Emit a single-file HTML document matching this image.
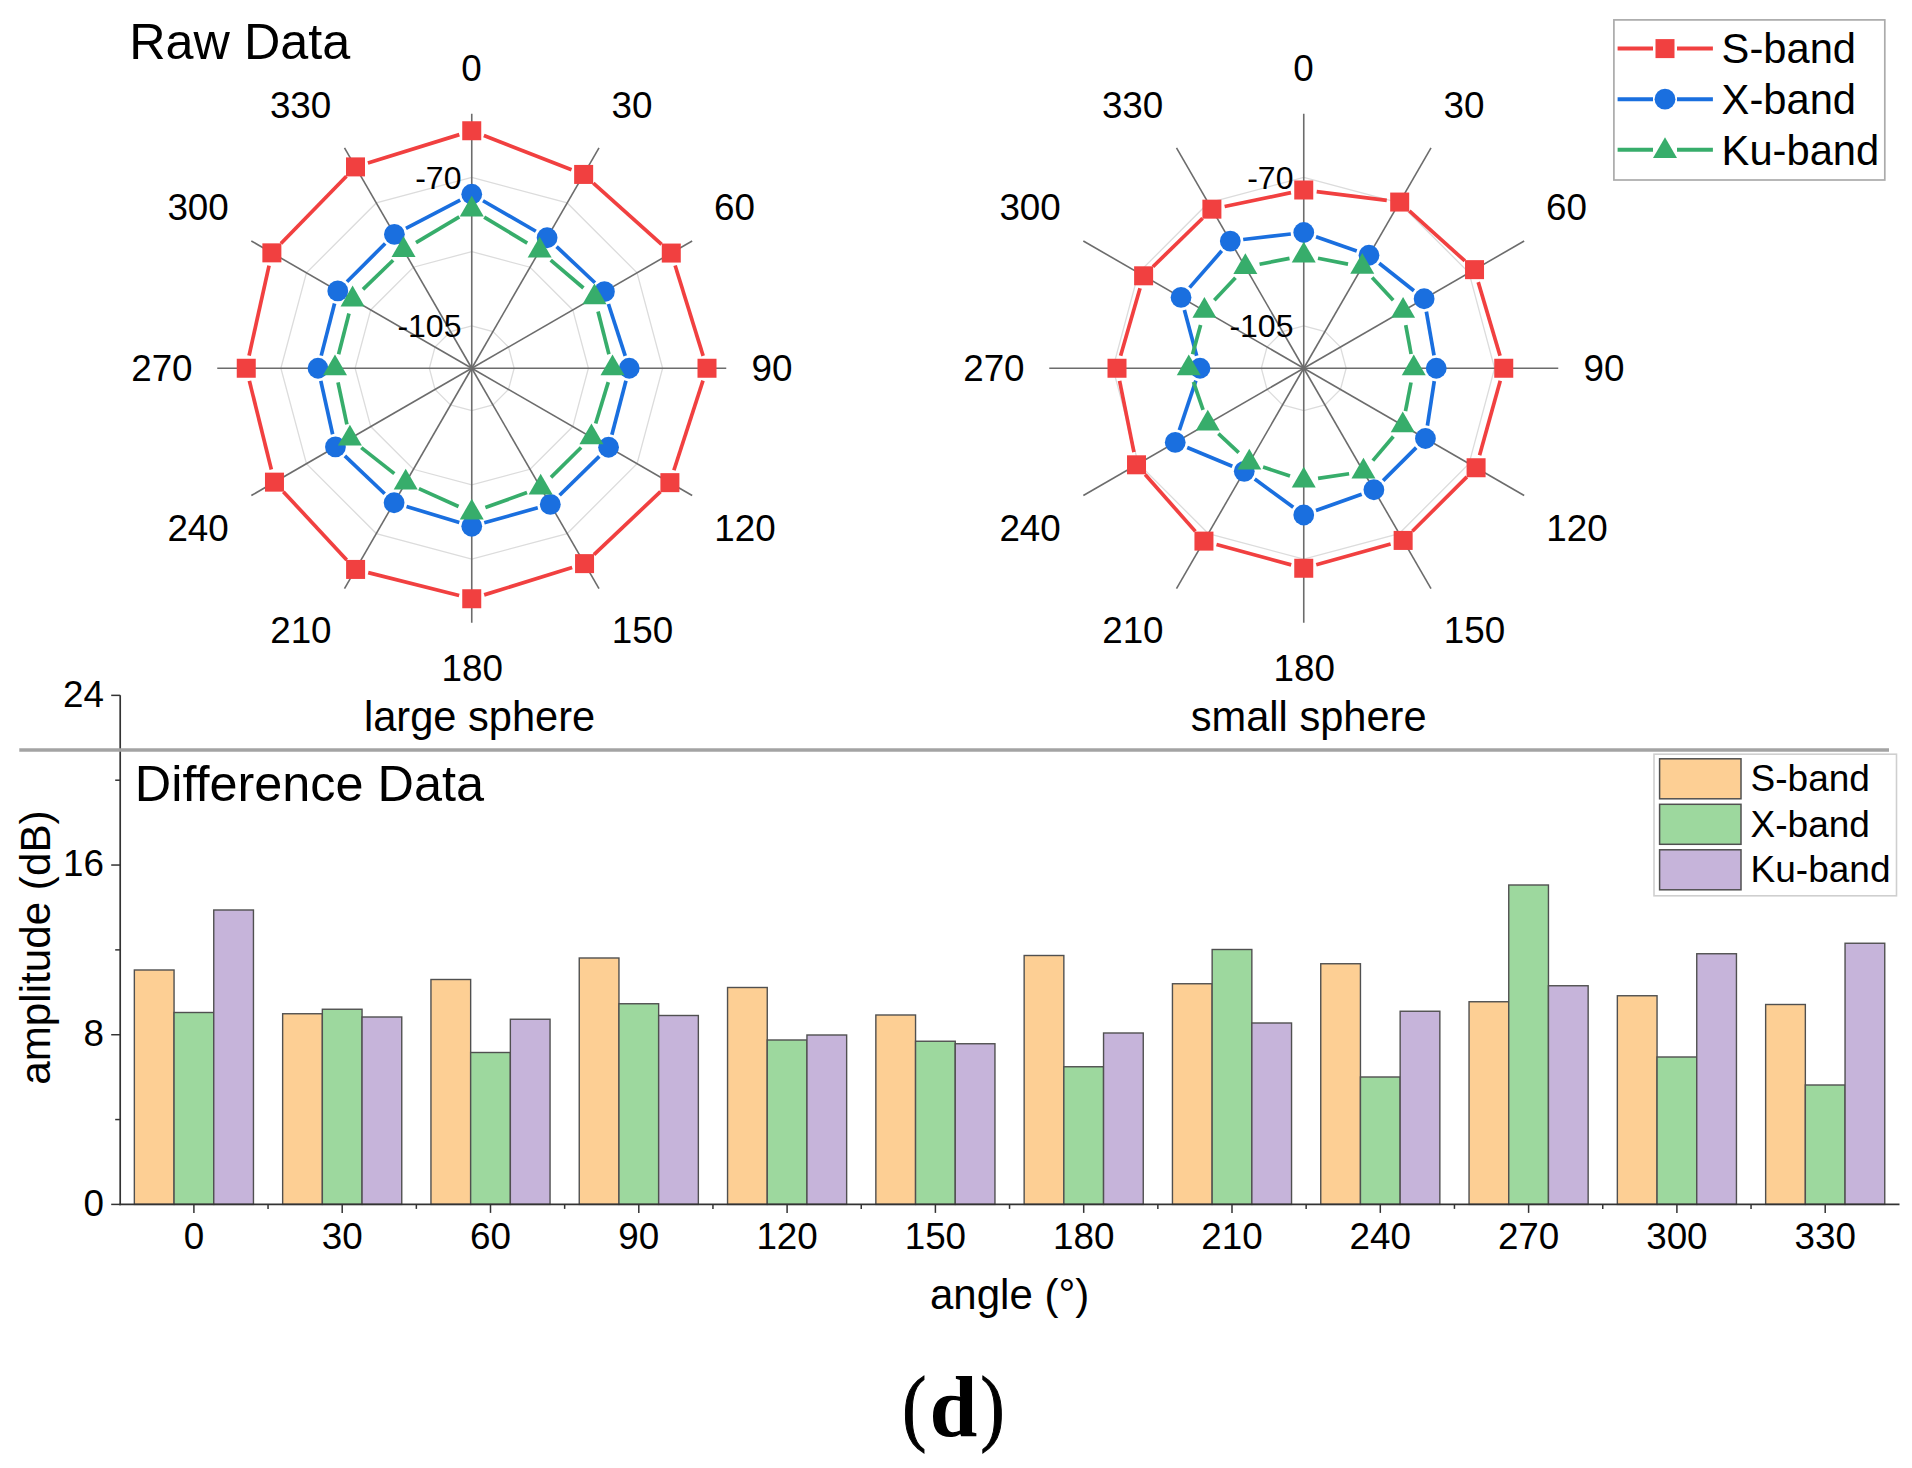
<!DOCTYPE html>
<html lang="en"><head><meta charset="utf-8"><title>Figure (d)</title>
<style>html,body{margin:0;padding:0;background:#fff}body{width:1912px;height:1468px;overflow:hidden}svg{display:block}</style>
</head><body>
<svg width="1912" height="1468" viewBox="0 0 1912 1468" font-family='"Liberation Sans", Arial, Helvetica, sans-serif' fill="#000">
<rect width="1912" height="1468" fill="#fff"/>
<rect x="134.35" y="970.00" width="39.7" height="234.40" fill="#FDCF94" stroke="#505050" stroke-width="1.4"/>
<rect x="174.05" y="1012.50" width="39.7" height="191.90" fill="#9DD89E" stroke="#505050" stroke-width="1.4"/>
<rect x="213.75" y="910.00" width="39.7" height="294.40" fill="#C6B4DA" stroke="#505050" stroke-width="1.4"/>
<rect x="282.65" y="1013.75" width="39.7" height="190.65" fill="#FDCF94" stroke="#505050" stroke-width="1.4"/>
<rect x="322.35" y="1009.25" width="39.7" height="195.15" fill="#9DD89E" stroke="#505050" stroke-width="1.4"/>
<rect x="362.05" y="1017.00" width="39.7" height="187.40" fill="#C6B4DA" stroke="#505050" stroke-width="1.4"/>
<rect x="430.95" y="979.50" width="39.7" height="224.90" fill="#FDCF94" stroke="#505050" stroke-width="1.4"/>
<rect x="470.65" y="1052.50" width="39.7" height="151.90" fill="#9DD89E" stroke="#505050" stroke-width="1.4"/>
<rect x="510.35" y="1019.25" width="39.7" height="185.15" fill="#C6B4DA" stroke="#505050" stroke-width="1.4"/>
<rect x="579.25" y="958.00" width="39.7" height="246.40" fill="#FDCF94" stroke="#505050" stroke-width="1.4"/>
<rect x="618.95" y="1003.75" width="39.7" height="200.65" fill="#9DD89E" stroke="#505050" stroke-width="1.4"/>
<rect x="658.65" y="1015.50" width="39.7" height="188.90" fill="#C6B4DA" stroke="#505050" stroke-width="1.4"/>
<rect x="727.55" y="987.50" width="39.7" height="216.90" fill="#FDCF94" stroke="#505050" stroke-width="1.4"/>
<rect x="767.25" y="1040.00" width="39.7" height="164.40" fill="#9DD89E" stroke="#505050" stroke-width="1.4"/>
<rect x="806.95" y="1035.00" width="39.7" height="169.40" fill="#C6B4DA" stroke="#505050" stroke-width="1.4"/>
<rect x="875.85" y="1015.00" width="39.7" height="189.40" fill="#FDCF94" stroke="#505050" stroke-width="1.4"/>
<rect x="915.55" y="1041.25" width="39.7" height="163.15" fill="#9DD89E" stroke="#505050" stroke-width="1.4"/>
<rect x="955.25" y="1043.75" width="39.7" height="160.65" fill="#C6B4DA" stroke="#505050" stroke-width="1.4"/>
<rect x="1024.15" y="955.50" width="39.7" height="248.90" fill="#FDCF94" stroke="#505050" stroke-width="1.4"/>
<rect x="1063.85" y="1066.75" width="39.7" height="137.65" fill="#9DD89E" stroke="#505050" stroke-width="1.4"/>
<rect x="1103.55" y="1033.00" width="39.7" height="171.40" fill="#C6B4DA" stroke="#505050" stroke-width="1.4"/>
<rect x="1172.45" y="983.75" width="39.7" height="220.65" fill="#FDCF94" stroke="#505050" stroke-width="1.4"/>
<rect x="1212.15" y="949.50" width="39.7" height="254.90" fill="#9DD89E" stroke="#505050" stroke-width="1.4"/>
<rect x="1251.85" y="1023.00" width="39.7" height="181.40" fill="#C6B4DA" stroke="#505050" stroke-width="1.4"/>
<rect x="1320.75" y="963.75" width="39.7" height="240.65" fill="#FDCF94" stroke="#505050" stroke-width="1.4"/>
<rect x="1360.45" y="1077.00" width="39.7" height="127.40" fill="#9DD89E" stroke="#505050" stroke-width="1.4"/>
<rect x="1400.15" y="1011.25" width="39.7" height="193.15" fill="#C6B4DA" stroke="#505050" stroke-width="1.4"/>
<rect x="1469.05" y="1001.75" width="39.7" height="202.65" fill="#FDCF94" stroke="#505050" stroke-width="1.4"/>
<rect x="1508.75" y="885.00" width="39.7" height="319.40" fill="#9DD89E" stroke="#505050" stroke-width="1.4"/>
<rect x="1548.45" y="985.75" width="39.7" height="218.65" fill="#C6B4DA" stroke="#505050" stroke-width="1.4"/>
<rect x="1617.35" y="995.75" width="39.7" height="208.65" fill="#FDCF94" stroke="#505050" stroke-width="1.4"/>
<rect x="1657.05" y="1057.00" width="39.7" height="147.40" fill="#9DD89E" stroke="#505050" stroke-width="1.4"/>
<rect x="1696.75" y="953.75" width="39.7" height="250.65" fill="#C6B4DA" stroke="#505050" stroke-width="1.4"/>
<rect x="1765.65" y="1004.50" width="39.7" height="199.90" fill="#FDCF94" stroke="#505050" stroke-width="1.4"/>
<rect x="1805.35" y="1085.00" width="39.7" height="119.40" fill="#9DD89E" stroke="#505050" stroke-width="1.4"/>
<rect x="1845.05" y="943.25" width="39.7" height="261.15" fill="#C6B4DA" stroke="#505050" stroke-width="1.4"/>
<line x1="120.2" y1="695.36" x2="120.2" y2="1205.20" stroke="#333" stroke-width="1.7"/>
<line x1="119.4" y1="1204.4" x2="1899.5" y2="1204.4" stroke="#333" stroke-width="1.7"/>
<line x1="111.2" y1="1204.40" x2="120.2" y2="1204.40" stroke="#333" stroke-width="1.5"/>
<text x="104" y="1215.80" font-size="36.8" text-anchor="end">0</text>
<line x1="115.2" y1="1119.56" x2="120.2" y2="1119.56" stroke="#333" stroke-width="1.5"/>
<line x1="111.2" y1="1034.72" x2="120.2" y2="1034.72" stroke="#333" stroke-width="1.5"/>
<text x="104" y="1046.12" font-size="36.8" text-anchor="end">8</text>
<line x1="115.2" y1="949.88" x2="120.2" y2="949.88" stroke="#333" stroke-width="1.5"/>
<line x1="111.2" y1="865.04" x2="120.2" y2="865.04" stroke="#333" stroke-width="1.5"/>
<text x="104" y="876.44" font-size="36.8" text-anchor="end">16</text>
<line x1="115.2" y1="780.20" x2="120.2" y2="780.20" stroke="#333" stroke-width="1.5"/>
<line x1="111.2" y1="695.36" x2="120.2" y2="695.36" stroke="#333" stroke-width="1.5"/>
<text x="104" y="706.76" font-size="36.8" text-anchor="end">24</text>
<line x1="193.90" y1="1204.4" x2="193.90" y2="1212.9" stroke="#333" stroke-width="1.5"/>
<text x="193.90" y="1248.5" font-size="36.8" text-anchor="middle">0</text>
<line x1="342.20" y1="1204.4" x2="342.20" y2="1212.9" stroke="#333" stroke-width="1.5"/>
<text x="342.20" y="1248.5" font-size="36.8" text-anchor="middle">30</text>
<line x1="268.05" y1="1204.4" x2="268.05" y2="1208.9" stroke="#333" stroke-width="1.5"/>
<line x1="490.50" y1="1204.4" x2="490.50" y2="1212.9" stroke="#333" stroke-width="1.5"/>
<text x="490.50" y="1248.5" font-size="36.8" text-anchor="middle">60</text>
<line x1="416.35" y1="1204.4" x2="416.35" y2="1208.9" stroke="#333" stroke-width="1.5"/>
<line x1="638.80" y1="1204.4" x2="638.80" y2="1212.9" stroke="#333" stroke-width="1.5"/>
<text x="638.80" y="1248.5" font-size="36.8" text-anchor="middle">90</text>
<line x1="564.65" y1="1204.4" x2="564.65" y2="1208.9" stroke="#333" stroke-width="1.5"/>
<line x1="787.10" y1="1204.4" x2="787.10" y2="1212.9" stroke="#333" stroke-width="1.5"/>
<text x="787.10" y="1248.5" font-size="36.8" text-anchor="middle">120</text>
<line x1="712.95" y1="1204.4" x2="712.95" y2="1208.9" stroke="#333" stroke-width="1.5"/>
<line x1="935.40" y1="1204.4" x2="935.40" y2="1212.9" stroke="#333" stroke-width="1.5"/>
<text x="935.40" y="1248.5" font-size="36.8" text-anchor="middle">150</text>
<line x1="861.25" y1="1204.4" x2="861.25" y2="1208.9" stroke="#333" stroke-width="1.5"/>
<line x1="1083.70" y1="1204.4" x2="1083.70" y2="1212.9" stroke="#333" stroke-width="1.5"/>
<text x="1083.70" y="1248.5" font-size="36.8" text-anchor="middle">180</text>
<line x1="1009.55" y1="1204.4" x2="1009.55" y2="1208.9" stroke="#333" stroke-width="1.5"/>
<line x1="1232.00" y1="1204.4" x2="1232.00" y2="1212.9" stroke="#333" stroke-width="1.5"/>
<text x="1232.00" y="1248.5" font-size="36.8" text-anchor="middle">210</text>
<line x1="1157.85" y1="1204.4" x2="1157.85" y2="1208.9" stroke="#333" stroke-width="1.5"/>
<line x1="1380.30" y1="1204.4" x2="1380.30" y2="1212.9" stroke="#333" stroke-width="1.5"/>
<text x="1380.30" y="1248.5" font-size="36.8" text-anchor="middle">240</text>
<line x1="1306.15" y1="1204.4" x2="1306.15" y2="1208.9" stroke="#333" stroke-width="1.5"/>
<line x1="1528.60" y1="1204.4" x2="1528.60" y2="1212.9" stroke="#333" stroke-width="1.5"/>
<text x="1528.60" y="1248.5" font-size="36.8" text-anchor="middle">270</text>
<line x1="1454.45" y1="1204.4" x2="1454.45" y2="1208.9" stroke="#333" stroke-width="1.5"/>
<line x1="1676.90" y1="1204.4" x2="1676.90" y2="1212.9" stroke="#333" stroke-width="1.5"/>
<text x="1676.90" y="1248.5" font-size="36.8" text-anchor="middle">300</text>
<line x1="1602.75" y1="1204.4" x2="1602.75" y2="1208.9" stroke="#333" stroke-width="1.5"/>
<line x1="1825.20" y1="1204.4" x2="1825.20" y2="1212.9" stroke="#333" stroke-width="1.5"/>
<text x="1825.20" y="1248.5" font-size="36.8" text-anchor="middle">330</text>
<line x1="1751.05" y1="1204.4" x2="1751.05" y2="1208.9" stroke="#333" stroke-width="1.5"/>
<text x="1009.6" y="1308.6" font-size="42" text-anchor="middle">angle (°)</text>
<text transform="translate(49.5,947.6) rotate(-90)" font-size="42.2" text-anchor="middle">amplitude (dB)</text>
<text x="134.8" y="800.5" font-size="50.4">Difference Data</text>
<rect x="1654" y="754.2" width="242.5" height="141.6" fill="#fff" stroke="#cfcfcf" stroke-width="1.6"/>
<rect x="1659.6" y="758.80" width="81.4" height="40" fill="#FDCF94" stroke="#505050" stroke-width="1.5"/>
<text x="1750.6" y="791.20" font-size="37">S-band</text>
<rect x="1659.6" y="804.30" width="81.4" height="40" fill="#9DD89E" stroke="#505050" stroke-width="1.5"/>
<text x="1750.6" y="836.70" font-size="37">X-band</text>
<rect x="1659.6" y="849.80" width="81.4" height="40" fill="#C6B4DA" stroke="#505050" stroke-width="1.5"/>
<text x="1750.6" y="882.20" font-size="37">Ku-band</text>
<line x1="19.3" y1="750" x2="1889" y2="750" stroke="#a3a3a3" stroke-width="3.5"/>
<polygon points="471.75,325.83 492.96,331.52 508.48,347.04 514.17,368.25 508.48,389.46 492.96,404.98 471.75,410.67 450.54,404.98 435.02,389.46 429.33,368.25 435.02,347.04 450.54,331.52" fill="none" stroke="#dcdcdc" stroke-width="1.3"/>
<polygon points="471.75,251.60 530.07,267.23 572.77,309.93 588.40,368.25 572.77,426.57 530.07,469.27 471.75,484.90 413.43,469.27 370.73,426.57 355.10,368.25 370.73,309.93 413.43,267.23" fill="none" stroke="#dcdcdc" stroke-width="1.3"/>
<polygon points="471.75,177.38 567.19,202.95 637.05,272.81 662.62,368.25 637.05,463.69 567.19,533.55 471.75,559.12 376.31,533.55 306.45,463.69 280.88,368.25 306.45,272.81 376.31,202.95" fill="none" stroke="#dcdcdc" stroke-width="1.3"/>
<line x1="471.75" y1="368.25" x2="471.75" y2="113.75" stroke="#6c6c6c" stroke-width="1.6"/>
<line x1="471.75" y1="368.25" x2="599.00" y2="147.85" stroke="#6c6c6c" stroke-width="1.6"/>
<line x1="471.75" y1="368.25" x2="692.15" y2="241.00" stroke="#6c6c6c" stroke-width="1.6"/>
<line x1="471.75" y1="368.25" x2="726.25" y2="368.25" stroke="#6c6c6c" stroke-width="1.6"/>
<line x1="471.75" y1="368.25" x2="692.15" y2="495.50" stroke="#6c6c6c" stroke-width="1.6"/>
<line x1="471.75" y1="368.25" x2="599.00" y2="588.65" stroke="#6c6c6c" stroke-width="1.6"/>
<line x1="471.75" y1="368.25" x2="471.75" y2="622.75" stroke="#6c6c6c" stroke-width="1.6"/>
<line x1="471.75" y1="368.25" x2="344.50" y2="588.65" stroke="#6c6c6c" stroke-width="1.6"/>
<line x1="471.75" y1="368.25" x2="251.35" y2="495.50" stroke="#6c6c6c" stroke-width="1.6"/>
<line x1="471.75" y1="368.25" x2="217.25" y2="368.25" stroke="#6c6c6c" stroke-width="1.6"/>
<line x1="471.75" y1="368.25" x2="251.35" y2="241.00" stroke="#6c6c6c" stroke-width="1.6"/>
<line x1="471.75" y1="368.25" x2="344.50" y2="147.85" stroke="#6c6c6c" stroke-width="1.6"/>
<text x="461.45" y="188.68" font-size="32" text-anchor="end">-70</text>
<text x="461.45" y="337.13" font-size="32" text-anchor="end">-105</text>
<line x1="483.86" y1="135.48" x2="571.54" y2="169.71" stroke="#F14040" stroke-width="3.7"/>
<line x1="593.33" y1="183.11" x2="661.61" y2="244.37" stroke="#F14040" stroke-width="3.7"/>
<line x1="675.13" y1="265.47" x2="703.15" y2="355.83" stroke="#F14040" stroke-width="3.7"/>
<line x1="702.99" y1="380.62" x2="673.91" y2="470.28" stroke="#F14040" stroke-width="3.7"/>
<line x1="660.47" y1="491.60" x2="593.98" y2="554.68" stroke="#F14040" stroke-width="3.7"/>
<line x1="572.14" y1="567.49" x2="484.16" y2="594.88" stroke="#F14040" stroke-width="3.7"/>
<line x1="459.15" y1="595.57" x2="368.20" y2="572.61" stroke="#F14040" stroke-width="3.7"/>
<line x1="346.75" y1="559.91" x2="283.32" y2="491.67" stroke="#F14040" stroke-width="3.7"/>
<line x1="271.34" y1="469.53" x2="249.38" y2="380.87" stroke="#F14040" stroke-width="3.7"/>
<line x1="249.07" y1="355.56" x2="269.05" y2="265.54" stroke="#F14040" stroke-width="3.7"/>
<line x1="280.94" y1="243.53" x2="346.43" y2="176.22" stroke="#F14040" stroke-width="3.7"/>
<line x1="367.91" y1="163.04" x2="459.34" y2="134.61" stroke="#F14040" stroke-width="3.7"/>
<rect x="462.25" y="121.25" width="19.0" height="19.0" fill="#F14040"/>
<rect x="574.15" y="164.93" width="19.0" height="19.0" fill="#F14040"/>
<rect x="661.78" y="243.55" width="19.0" height="19.0" fill="#F14040"/>
<rect x="697.50" y="358.75" width="19.0" height="19.0" fill="#F14040"/>
<rect x="660.40" y="473.15" width="19.0" height="19.0" fill="#F14040"/>
<rect x="575.05" y="554.13" width="19.0" height="19.0" fill="#F14040"/>
<rect x="462.25" y="589.25" width="19.0" height="19.0" fill="#F14040"/>
<rect x="346.10" y="559.93" width="19.0" height="19.0" fill="#F14040"/>
<rect x="264.97" y="472.65" width="19.0" height="19.0" fill="#F14040"/>
<rect x="236.75" y="358.75" width="19.0" height="19.0" fill="#F14040"/>
<rect x="262.37" y="243.35" width="19.0" height="19.0" fill="#F14040"/>
<rect x="346.00" y="157.40" width="19.0" height="19.0" fill="#F14040"/>
<line x1="483.01" y1="200.75" x2="535.84" y2="231.24" stroke="#1A6FDF" stroke-width="3.7"/>
<line x1="556.57" y1="246.65" x2="594.95" y2="282.74" stroke="#1A6FDF" stroke-width="3.7"/>
<line x1="608.43" y1="304.02" x2="625.24" y2="355.88" stroke="#1A6FDF" stroke-width="3.7"/>
<line x1="625.96" y1="380.83" x2="611.87" y2="434.67" stroke="#1A6FDF" stroke-width="3.7"/>
<line x1="599.29" y1="456.34" x2="559.59" y2="495.21" stroke="#1A6FDF" stroke-width="3.7"/>
<line x1="537.78" y1="507.80" x2="484.27" y2="522.75" stroke="#1A6FDF" stroke-width="3.7"/>
<line x1="459.31" y1="522.48" x2="406.54" y2="506.51" stroke="#1A6FDF" stroke-width="3.7"/>
<line x1="384.68" y1="493.78" x2="344.86" y2="455.91" stroke="#1A6FDF" stroke-width="3.7"/>
<line x1="332.63" y1="434.26" x2="320.81" y2="380.94" stroke="#1A6FDF" stroke-width="3.7"/>
<line x1="321.22" y1="355.66" x2="334.56" y2="303.49" stroke="#1A6FDF" stroke-width="3.7"/>
<line x1="346.97" y1="281.71" x2="385.21" y2="243.47" stroke="#1A6FDF" stroke-width="3.7"/>
<line x1="405.95" y1="228.30" x2="460.20" y2="200.22" stroke="#1A6FDF" stroke-width="3.7"/>
<circle cx="471.75" cy="194.25" r="10.4" fill="#1A6FDF"/>
<circle cx="547.10" cy="237.74" r="10.4" fill="#1A6FDF"/>
<circle cx="604.43" cy="291.65" r="10.4" fill="#1A6FDF"/>
<circle cx="629.25" cy="368.25" r="10.4" fill="#1A6FDF"/>
<circle cx="608.58" cy="447.25" r="10.4" fill="#1A6FDF"/>
<circle cx="550.30" cy="504.30" r="10.4" fill="#1A6FDF"/>
<circle cx="471.75" cy="526.25" r="10.4" fill="#1A6FDF"/>
<circle cx="394.10" cy="502.74" r="10.4" fill="#1A6FDF"/>
<circle cx="335.44" cy="446.95" r="10.4" fill="#1A6FDF"/>
<circle cx="318.00" cy="368.25" r="10.4" fill="#1A6FDF"/>
<circle cx="337.78" cy="290.90" r="10.4" fill="#1A6FDF"/>
<circle cx="394.40" cy="234.28" r="10.4" fill="#1A6FDF"/>
<line x1="484.16" y1="217.06" x2="527.24" y2="243.14" stroke="#37AD6B" stroke-width="3.7"/>
<line x1="550.68" y1="260.05" x2="583.43" y2="287.99" stroke="#37AD6B" stroke-width="3.7"/>
<line x1="598.04" y1="311.45" x2="608.92" y2="354.20" stroke="#37AD6B" stroke-width="3.7"/>
<line x1="608.27" y1="382.12" x2="595.66" y2="423.48" stroke="#37AD6B" stroke-width="3.7"/>
<line x1="581.13" y1="447.55" x2="550.96" y2="477.39" stroke="#37AD6B" stroke-width="3.7"/>
<line x1="527.01" y1="492.52" x2="485.39" y2="507.57" stroke="#37AD6B" stroke-width="3.7"/>
<line x1="458.54" y1="506.53" x2="418.91" y2="488.62" stroke="#37AD6B" stroke-width="3.7"/>
<line x1="394.32" y1="473.67" x2="361.28" y2="447.58" stroke="#37AD6B" stroke-width="3.7"/>
<line x1="346.90" y1="424.41" x2="338.00" y2="382.44" stroke="#37AD6B" stroke-width="3.7"/>
<line x1="338.59" y1="354.20" x2="348.99" y2="313.50" stroke="#37AD6B" stroke-width="3.7"/>
<line x1="363.00" y1="289.37" x2="393.13" y2="260.21" stroke="#37AD6B" stroke-width="3.7"/>
<line x1="416.01" y1="242.71" x2="459.29" y2="216.96" stroke="#37AD6B" stroke-width="3.7"/>
<polygon points="471.75,195.69 459.75,216.48 483.75,216.48" fill="#37AD6B"/>
<polygon points="539.65,236.79 527.65,257.57 551.65,257.57" fill="#37AD6B"/>
<polygon points="594.47,283.54 582.47,304.33 606.47,304.33" fill="#37AD6B"/>
<polygon points="612.50,354.39 600.50,375.18 624.50,375.18" fill="#37AD6B"/>
<polygon points="591.43,423.49 579.43,444.28 603.43,444.28" fill="#37AD6B"/>
<polygon points="540.65,473.73 528.65,494.52 552.65,494.52" fill="#37AD6B"/>
<polygon points="471.75,498.64 459.75,519.43 483.75,519.43" fill="#37AD6B"/>
<polygon points="405.70,468.80 393.70,489.58 417.70,489.58" fill="#37AD6B"/>
<polygon points="349.90,424.74 337.90,445.53 361.90,445.53" fill="#37AD6B"/>
<polygon points="335.00,354.39 323.00,375.18 347.00,375.18" fill="#37AD6B"/>
<polygon points="352.58,285.59 340.58,306.38 364.58,306.38" fill="#37AD6B"/>
<polygon points="403.55,236.27 391.55,257.05 415.55,257.05" fill="#37AD6B"/>
<text x="471.50" y="80.55" font-size="36.8" text-anchor="middle">0</text>
<text x="632.00" y="117.50" font-size="36.8" text-anchor="middle">30</text>
<text x="734.40" y="220.00" font-size="36.8" text-anchor="middle">60</text>
<text x="772.00" y="381.00" font-size="36.8" text-anchor="middle">90</text>
<text x="745.00" y="541.25" font-size="36.8" text-anchor="middle">120</text>
<text x="642.50" y="642.50" font-size="36.8" text-anchor="middle">150</text>
<text x="472.30" y="681.00" font-size="36.8" text-anchor="middle">180</text>
<text x="300.90" y="642.50" font-size="36.8" text-anchor="middle">210</text>
<text x="198.10" y="541.25" font-size="36.8" text-anchor="middle">240</text>
<text x="161.90" y="381.00" font-size="36.8" text-anchor="middle">270</text>
<text x="198.10" y="220.00" font-size="36.8" text-anchor="middle">300</text>
<text x="300.60" y="117.50" font-size="36.8" text-anchor="middle">330</text>
<polygon points="1303.75,325.83 1324.96,331.52 1340.48,347.04 1346.17,368.25 1340.48,389.46 1324.96,404.98 1303.75,410.67 1282.54,404.98 1267.02,389.46 1261.33,368.25 1267.02,347.04 1282.54,331.52" fill="none" stroke="#dcdcdc" stroke-width="1.3"/>
<polygon points="1303.75,177.38 1399.19,202.95 1469.05,272.81 1494.62,368.25 1469.05,463.69 1399.19,533.55 1303.75,559.12 1208.31,533.55 1138.45,463.69 1112.88,368.25 1138.45,272.81 1208.31,202.95" fill="none" stroke="#dcdcdc" stroke-width="1.3"/>
<line x1="1303.75" y1="368.25" x2="1303.75" y2="113.75" stroke="#6c6c6c" stroke-width="1.6"/>
<line x1="1303.75" y1="368.25" x2="1431.00" y2="147.85" stroke="#6c6c6c" stroke-width="1.6"/>
<line x1="1303.75" y1="368.25" x2="1524.15" y2="241.00" stroke="#6c6c6c" stroke-width="1.6"/>
<line x1="1303.75" y1="368.25" x2="1558.25" y2="368.25" stroke="#6c6c6c" stroke-width="1.6"/>
<line x1="1303.75" y1="368.25" x2="1524.15" y2="495.50" stroke="#6c6c6c" stroke-width="1.6"/>
<line x1="1303.75" y1="368.25" x2="1431.00" y2="588.65" stroke="#6c6c6c" stroke-width="1.6"/>
<line x1="1303.75" y1="368.25" x2="1303.75" y2="622.75" stroke="#6c6c6c" stroke-width="1.6"/>
<line x1="1303.75" y1="368.25" x2="1176.50" y2="588.65" stroke="#6c6c6c" stroke-width="1.6"/>
<line x1="1303.75" y1="368.25" x2="1083.35" y2="495.50" stroke="#6c6c6c" stroke-width="1.6"/>
<line x1="1303.75" y1="368.25" x2="1049.25" y2="368.25" stroke="#6c6c6c" stroke-width="1.6"/>
<line x1="1303.75" y1="368.25" x2="1083.35" y2="241.00" stroke="#6c6c6c" stroke-width="1.6"/>
<line x1="1303.75" y1="368.25" x2="1176.50" y2="147.85" stroke="#6c6c6c" stroke-width="1.6"/>
<text x="1293.45" y="188.68" font-size="32" text-anchor="end">-70</text>
<text x="1293.45" y="337.13" font-size="32" text-anchor="end">-105</text>
<line x1="1316.65" y1="191.62" x2="1386.80" y2="200.44" stroke="#F14040" stroke-width="3.7"/>
<line x1="1409.35" y1="210.77" x2="1464.88" y2="260.94" stroke="#F14040" stroke-width="3.7"/>
<line x1="1478.22" y1="282.11" x2="1500.06" y2="355.79" stroke="#F14040" stroke-width="3.7"/>
<line x1="1500.27" y1="380.78" x2="1479.57" y2="455.22" stroke="#F14040" stroke-width="3.7"/>
<line x1="1466.88" y1="476.93" x2="1412.36" y2="531.24" stroke="#F14040" stroke-width="3.7"/>
<line x1="1390.63" y1="543.92" x2="1316.27" y2="564.74" stroke="#F14040" stroke-width="3.7"/>
<line x1="1291.21" y1="564.84" x2="1216.49" y2="544.52" stroke="#F14040" stroke-width="3.7"/>
<line x1="1195.34" y1="531.37" x2="1145.13" y2="474.54" stroke="#F14040" stroke-width="3.7"/>
<line x1="1133.94" y1="452.06" x2="1119.58" y2="380.99" stroke="#F14040" stroke-width="3.7"/>
<line x1="1120.60" y1="355.76" x2="1140.02" y2="288.29" stroke="#F14040" stroke-width="3.7"/>
<line x1="1152.93" y1="266.72" x2="1202.60" y2="218.24" stroke="#F14040" stroke-width="3.7"/>
<line x1="1224.63" y1="206.51" x2="1291.02" y2="192.65" stroke="#F14040" stroke-width="3.7"/>
<rect x="1294.25" y="180.50" width="19.0" height="19.0" fill="#F14040"/>
<rect x="1390.20" y="192.56" width="19.0" height="19.0" fill="#F14040"/>
<rect x="1465.03" y="260.15" width="19.0" height="19.0" fill="#F14040"/>
<rect x="1494.25" y="358.75" width="19.0" height="19.0" fill="#F14040"/>
<rect x="1466.59" y="458.25" width="19.0" height="19.0" fill="#F14040"/>
<rect x="1393.65" y="530.92" width="19.0" height="19.0" fill="#F14040"/>
<rect x="1294.25" y="558.75" width="19.0" height="19.0" fill="#F14040"/>
<rect x="1194.45" y="531.61" width="19.0" height="19.0" fill="#F14040"/>
<rect x="1127.02" y="455.30" width="19.0" height="19.0" fill="#F14040"/>
<rect x="1107.50" y="358.75" width="19.0" height="19.0" fill="#F14040"/>
<rect x="1134.12" y="266.30" width="19.0" height="19.0" fill="#F14040"/>
<rect x="1202.40" y="199.66" width="19.0" height="19.0" fill="#F14040"/>
<line x1="1316.03" y1="236.78" x2="1356.72" y2="250.96" stroke="#1A6FDF" stroke-width="3.7"/>
<line x1="1379.20" y1="263.29" x2="1413.92" y2="290.70" stroke="#1A6FDF" stroke-width="3.7"/>
<line x1="1426.36" y1="311.56" x2="1434.02" y2="355.44" stroke="#1A6FDF" stroke-width="3.7"/>
<line x1="1434.27" y1="381.10" x2="1427.41" y2="425.65" stroke="#1A6FDF" stroke-width="3.7"/>
<line x1="1416.21" y1="447.67" x2="1383.12" y2="480.59" stroke="#1A6FDF" stroke-width="3.7"/>
<line x1="1361.67" y1="494.16" x2="1315.98" y2="510.60" stroke="#1A6FDF" stroke-width="3.7"/>
<line x1="1293.27" y1="507.31" x2="1254.73" y2="479.00" stroke="#1A6FDF" stroke-width="3.7"/>
<line x1="1232.26" y1="466.29" x2="1187.23" y2="447.46" stroke="#1A6FDF" stroke-width="3.7"/>
<line x1="1179.35" y1="430.12" x2="1195.88" y2="380.58" stroke="#1A6FDF" stroke-width="3.7"/>
<line x1="1196.64" y1="355.69" x2="1184.40" y2="309.96" stroke="#1A6FDF" stroke-width="3.7"/>
<line x1="1189.59" y1="287.61" x2="1221.75" y2="250.82" stroke="#1A6FDF" stroke-width="3.7"/>
<line x1="1243.21" y1="239.53" x2="1290.84" y2="234.00" stroke="#1A6FDF" stroke-width="3.7"/>
<circle cx="1303.75" cy="232.50" r="10.4" fill="#1A6FDF"/>
<circle cx="1369.00" cy="255.23" r="10.4" fill="#1A6FDF"/>
<circle cx="1424.13" cy="298.75" r="10.4" fill="#1A6FDF"/>
<circle cx="1436.25" cy="368.25" r="10.4" fill="#1A6FDF"/>
<circle cx="1425.43" cy="438.50" r="10.4" fill="#1A6FDF"/>
<circle cx="1373.90" cy="489.75" r="10.4" fill="#1A6FDF"/>
<circle cx="1303.75" cy="515.00" r="10.4" fill="#1A6FDF"/>
<circle cx="1244.25" cy="471.31" r="10.4" fill="#1A6FDF"/>
<circle cx="1175.23" cy="442.45" r="10.4" fill="#1A6FDF"/>
<circle cx="1200.00" cy="368.25" r="10.4" fill="#1A6FDF"/>
<circle cx="1181.03" cy="297.40" r="10.4" fill="#1A6FDF"/>
<circle cx="1230.30" cy="241.03" r="10.4" fill="#1A6FDF"/>
<line x1="1317.98" y1="258.28" x2="1348.02" y2="264.15" stroke="#37AD6B" stroke-width="3.7"/>
<line x1="1372.12" y1="277.55" x2="1393.22" y2="300.27" stroke="#37AD6B" stroke-width="3.7"/>
<line x1="1405.73" y1="325.16" x2="1411.10" y2="353.99" stroke="#37AD6B" stroke-width="3.7"/>
<line x1="1411.01" y1="382.49" x2="1405.48" y2="411.16" stroke="#37AD6B" stroke-width="3.7"/>
<line x1="1393.35" y1="436.45" x2="1372.84" y2="460.60" stroke="#37AD6B" stroke-width="3.7"/>
<line x1="1349.11" y1="473.78" x2="1318.09" y2="478.37" stroke="#37AD6B" stroke-width="3.7"/>
<line x1="1289.98" y1="475.96" x2="1263.07" y2="467.10" stroke="#37AD6B" stroke-width="3.7"/>
<line x1="1238.72" y1="452.64" x2="1218.37" y2="433.57" stroke="#37AD6B" stroke-width="3.7"/>
<line x1="1203.08" y1="409.94" x2="1193.46" y2="381.96" stroke="#37AD6B" stroke-width="3.7"/>
<line x1="1192.57" y1="354.26" x2="1200.60" y2="324.89" stroke="#37AD6B" stroke-width="3.7"/>
<line x1="1214.32" y1="300.31" x2="1235.45" y2="277.69" stroke="#37AD6B" stroke-width="3.7"/>
<line x1="1259.57" y1="264.27" x2="1289.53" y2="258.32" stroke="#37AD6B" stroke-width="3.7"/>
<polygon points="1303.75,241.64 1291.75,262.43 1315.75,262.43" fill="#37AD6B"/>
<polygon points="1362.25,253.07 1350.25,273.85 1374.25,273.85" fill="#37AD6B"/>
<polygon points="1403.08,297.04 1391.08,317.83 1415.08,317.83" fill="#37AD6B"/>
<polygon points="1413.75,354.39 1401.75,375.18 1425.75,375.18" fill="#37AD6B"/>
<polygon points="1402.74,411.54 1390.74,432.33 1414.74,432.33" fill="#37AD6B"/>
<polygon points="1363.45,457.80 1351.45,478.58 1375.45,478.58" fill="#37AD6B"/>
<polygon points="1303.75,466.64 1291.75,487.43 1315.75,487.43" fill="#37AD6B"/>
<polygon points="1249.30,448.70 1237.30,469.49 1261.30,469.49" fill="#37AD6B"/>
<polygon points="1207.79,409.79 1195.79,430.58 1219.79,430.58" fill="#37AD6B"/>
<polygon points="1188.75,354.39 1176.75,375.18 1200.75,375.18" fill="#37AD6B"/>
<polygon points="1204.42,297.04 1192.42,317.83 1216.42,317.83" fill="#37AD6B"/>
<polygon points="1245.35,253.24 1233.35,274.03 1257.35,274.03" fill="#37AD6B"/>
<text x="1303.50" y="80.55" font-size="36.8" text-anchor="middle">0</text>
<text x="1464.00" y="117.50" font-size="36.8" text-anchor="middle">30</text>
<text x="1566.40" y="220.00" font-size="36.8" text-anchor="middle">60</text>
<text x="1604.00" y="381.00" font-size="36.8" text-anchor="middle">90</text>
<text x="1577.00" y="541.25" font-size="36.8" text-anchor="middle">120</text>
<text x="1474.50" y="642.50" font-size="36.8" text-anchor="middle">150</text>
<text x="1304.30" y="681.00" font-size="36.8" text-anchor="middle">180</text>
<text x="1132.90" y="642.50" font-size="36.8" text-anchor="middle">210</text>
<text x="1030.10" y="541.25" font-size="36.8" text-anchor="middle">240</text>
<text x="993.90" y="381.00" font-size="36.8" text-anchor="middle">270</text>
<text x="1030.10" y="220.00" font-size="36.8" text-anchor="middle">300</text>
<text x="1132.60" y="117.50" font-size="36.8" text-anchor="middle">330</text>
<text x="129.3" y="59.2" font-size="50.3">Raw Data</text>
<text x="479.6" y="731.1" font-size="41.6" text-anchor="middle">large sphere</text>
<text x="1308.7" y="731.1" font-size="41.6" text-anchor="middle">small sphere</text>
<rect x="1613.9" y="19.9" width="270.9" height="160.1" fill="#fff" stroke="#ababab" stroke-width="1.7"/>
<line x1="1617.6" y1="48.60" x2="1653" y2="48.60" stroke="#F14040" stroke-width="4.0"/>
<line x1="1677" y1="48.60" x2="1712.9" y2="48.60" stroke="#F14040" stroke-width="4.0"/>
<rect x="1655.50" y="39.10" width="19.0" height="19.0" fill="#F14040"/>
<text x="1721.6" y="62.80" font-size="41.7">S-band</text>
<line x1="1617.6" y1="99.20" x2="1653" y2="99.20" stroke="#1A6FDF" stroke-width="4.0"/>
<line x1="1677" y1="99.20" x2="1712.9" y2="99.20" stroke="#1A6FDF" stroke-width="4.0"/>
<circle cx="1665.00" cy="99.20" r="10.4" fill="#1A6FDF"/>
<text x="1721.6" y="113.80" font-size="41.7">X-band</text>
<line x1="1617.6" y1="149.80" x2="1653" y2="149.80" stroke="#37AD6B" stroke-width="4.0"/>
<line x1="1677" y1="149.80" x2="1712.9" y2="149.80" stroke="#37AD6B" stroke-width="4.0"/>
<polygon points="1665.00,137.14 1653.00,157.93 1677.00,157.93" fill="#37AD6B"/>
<text x="1721.6" y="164.80" font-size="41.7">Ku-band</text>
<g font-family='"Liberation Serif", "Times New Roman", serif' font-size="86">
<text transform="translate(902.3,1434.5) scale(0.86,1)" font-size="84" stroke="#000" stroke-width="1.1">(</text>
<text x="929.4" y="1436.1" font-weight="bold">d</text>
<text transform="translate(1004.5,1434.5) scale(0.86,1)" font-size="84" text-anchor="end" stroke="#000" stroke-width="1.1">)</text>
</g>
</svg>
</body></html>
